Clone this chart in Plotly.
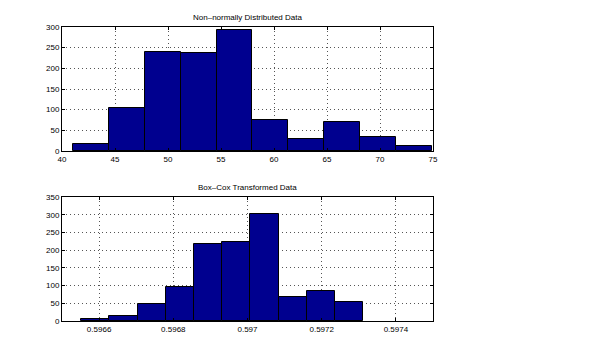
import numpy as np
import plotly.graph_objects as go

# ---- data ----
top_edges = [41.07, 44.45, 47.83, 51.21, 54.59, 57.97, 61.35, 64.73, 68.11, 71.49, 74.87]
top_counts = [18, 105, 239, 237, 293, 76, 30, 69, 35, 13]
top_xticks = [40, 45, 50, 55, 60, 65, 70, 75]
top_yticks = [0, 50, 100, 150, 200, 250, 300]

bot_edges = [0.596552, 0.596628, 0.596704, 0.596780, 0.596856, 0.596932,
             0.597008, 0.597084, 0.597160, 0.597236, 0.597312]
bot_counts = [7, 15, 49, 95, 216, 224, 301, 69, 86, 55]
bot_xticks = [0.5966, 0.5968, 0.597, 0.5972, 0.5974]
bot_xticklabels = ["0.5966", "0.5968", "0.597", "0.5972", "0.5974"]
bot_yticks = [0, 50, 100, 150, 200, 250, 300, 350]

titles = ["Non\u2013normally Distributed Data", "Box\u2013Cox Transformed Data"]

W, H = 600, 363
FONT = "Liberation Sans, Arial, sans-serif"
BAR = "rgb(0,0,143)"


def hist_trace(edges, counts, xa, ya):
    e = np.asarray(edges)
    centers = (e[:-1] + e[1:]) / 2
    widths = np.diff(e)
    return go.Bar(x=centers, y=counts, width=widths, xaxis=xa, yaxis=ya,
                  marker=dict(color=BAR, line=dict(color="black", width=1)),
                  showlegend=False, hoverinfo="skip")


fig = go.Figure()
fig.add_trace(hist_trace(top_edges, top_counts, "x", "y"))
fig.add_trace(hist_trace(bot_edges, bot_counts, "x2", "y2"))

xdom = [62 / W, 433 / W]
top_dom = [1 - 151 / H, 1 - 27 / H]
bot_dom = [1 - 321 / H, 1 - 197 / H]

axis_common = dict(showline=True, linecolor="black", linewidth=1, mirror="allticks",
                   ticks="inside", ticklen=3, tickcolor="black", automargin=False,
                   showgrid=True, gridcolor="#555", gridwidth=1, griddash="1px,3px",
                   zeroline=False, tickfont=dict(family=FONT, size=8, color="black"))

fig.update_layout(
    width=W, height=H, margin=dict(l=0, r=0, t=0, b=0),
    paper_bgcolor="white", plot_bgcolor="white", bargap=0,
    xaxis=dict(domain=xdom, anchor="y", range=[40, 75], tickvals=top_xticks, **axis_common),
    yaxis=dict(domain=top_dom, anchor="x", range=[0, 300], tickvals=top_yticks, **axis_common),
    xaxis2=dict(domain=xdom, anchor="y2", range=[0.5965, 0.5975], tickvals=bot_xticks,
                ticktext=bot_xticklabels, **axis_common),
    yaxis2=dict(domain=bot_dom, anchor="x2", range=[0, 350], tickvals=bot_yticks, **axis_common),
    annotations=[
        dict(text=titles[0], xref="paper", yref="paper", x=(xdom[0] + xdom[1]) / 2,
             y=1 - 17 / H, showarrow=False, font=dict(family=FONT, size=8, color="black"),
             xanchor="center", yanchor="middle"),
        dict(text=titles[1], xref="paper", yref="paper", x=(xdom[0] + xdom[1]) / 2,
             y=1 - 187 / H, showarrow=False, font=dict(family=FONT, size=8, color="black"),
             xanchor="center", yanchor="middle"),
    ],
)

fig.write_html("out.html", config={"displayModeBar": False},
               post_script="document.body.style.margin='0';")
